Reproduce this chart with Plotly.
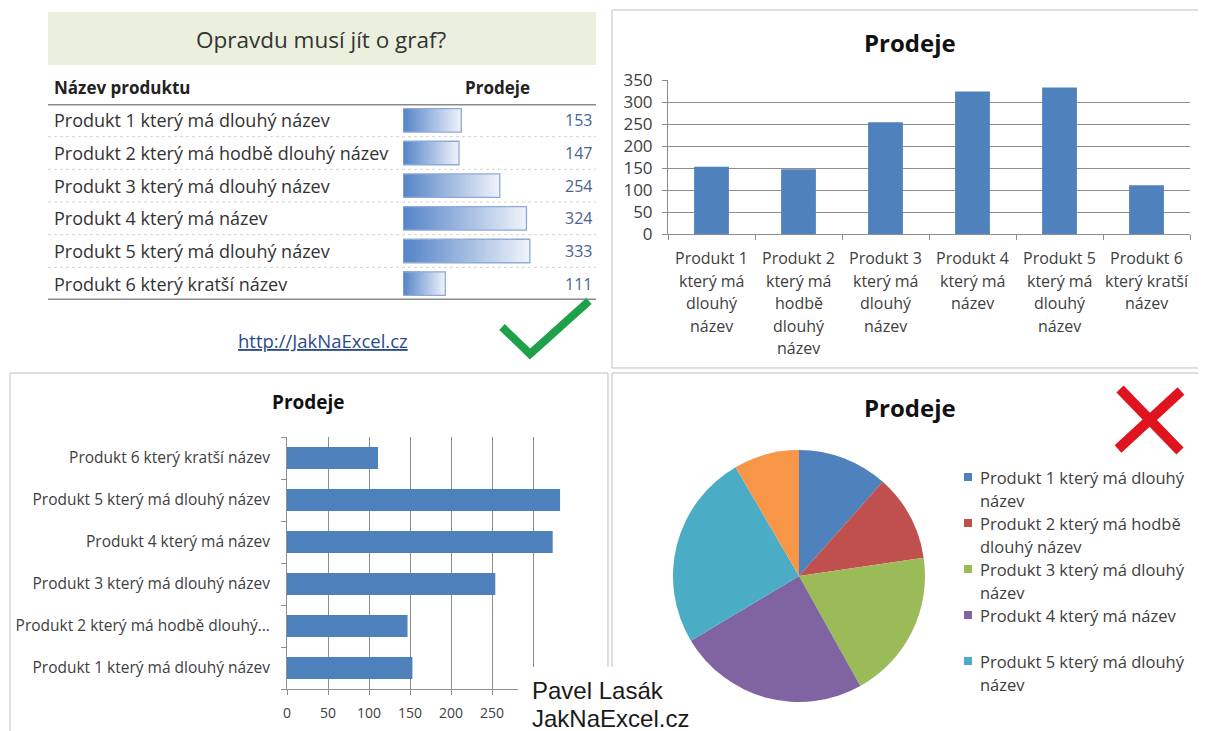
import plotly.graph_objects as go

# The page body has an 8px margin, so the figure is placed 8px in from the
# window's top-left corner; positions below are given in window pixels.
OFF = 8
W, H = 1206 - OFF, 731 - OFF


def X(p):
    return (p - OFF) / W


def Y(p):
    return 1 - (p - OFF) / H


# ---------------- data ----------------
products = [
    "Produkt 1 který má dlouhý název",
    "Produkt 2 který má hodbě dlouhý název",
    "Produkt 3 který má dlouhý název",
    "Produkt 4 který má název",
    "Produkt 5 který má dlouhý název",
    "Produkt 6 který kratší název",
]
sales = [153, 147, 254, 324, 333, 111]

column_tick_labels = [
    "Produkt 1<br>který má<br>dlouhý<br>název",
    "Produkt 2<br>který má<br>hodbě<br>dlouhý<br>název",
    "Produkt 3<br>který má<br>dlouhý<br>název",
    "Produkt 4<br>který má<br>název",
    "Produkt 5<br>který má<br>dlouhý<br>název",
    "Produkt 6<br>který kratší<br>název",
]
hbar_tick_labels = [
    "Produkt 1 který má dlouhý název",
    "Produkt 2 který má hodbě dlouhý...",
    "Produkt 3 který má dlouhý název",
    "Produkt 4 který má název",
    "Produkt 5 který má dlouhý název",
    "Produkt 6 který kratší název",
]
hbar_x_ticks = [0, 50, 100, 150, 200, 250, 300, 350]
hbar_x_ticktext = ["0", "50", "100", "150", "200", "250", "", ""]  # 300/350 hidden under the stamp
legend_labels = [
    "Produkt 1 který má dlouhý<br>název",
    "Produkt 2 který má hodbě<br>dlouhý název",
    "Produkt 3 který má dlouhý<br>název",
    "Produkt 4 který má název",
    "Produkt 5 který má dlouhý<br>název",
]
pie_colors = ["#4F81BD", "#C0504D", "#9BBB59", "#8064A2", "#4BACC6", "#F79646"]

table_title = "Opravdu musí jít o graf?"
header_name = "Název produktu"
header_sales = "Prodeje"
chart_title = "Prodeje"
link_text = "http://JakNaExcel.cz"
author_lines = ["Pavel Lasák", "JakNaExcel.cz"]

FONT = "Open Sans"
TXT = "#333333"
AX = "#404040"
GRID = "#8E8E8E"
BAR = "#4F81BD"

fig = go.Figure()

# ---------------- table data bars (gradient) ----------------
N_SEG = 40
c_dark = (86, 133, 201)
c_light = (238, 242, 250)
for k in range(N_SEG - 1, -1, -1):
    t = k / (N_SEG - 1)
    col = "rgb(%d,%d,%d)" % tuple(round(c_dark[i] + (c_light[i] - c_dark[i]) * t) for i in range(3))
    fig.add_trace(go.Bar(
        y=products, x=[v * (k + 1) / N_SEG for v in sales], orientation="h",
        xaxis="x3", yaxis="y3", width=0.72,
        marker=dict(color=col, line=dict(width=0)), hoverinfo="skip",
    ))
fig.add_trace(go.Bar(
    y=products, x=sales, orientation="h", xaxis="x3", yaxis="y3", width=0.72,
    marker=dict(color="rgba(0,0,0,0)", line=dict(color="#8FA9D6", width=1.3)),
    hoverinfo="x+y",
))

# ---------------- column chart (top right) ----------------
fig.add_trace(go.Bar(
    x=products, y=sales, xaxis="x", yaxis="y", width=0.4,
    marker=dict(color=BAR, line=dict(width=0)),
))

# ---------------- horizontal bar chart (bottom left) ----------------
fig.add_trace(go.Bar(
    y=products, x=sales, orientation="h", xaxis="x2", yaxis="y2", width=0.52,
    marker=dict(color=BAR, line=dict(width=0)),
))

# ---------------- pie (bottom right) ----------------
fig.add_trace(go.Pie(
    labels=products, values=sales, sort=False, direction="clockwise", rotation=0,
    marker=dict(colors=pie_colors, line=dict(width=0)),
    textinfo="none", showlegend=False,
    domain=dict(x=[X(673), X(925)], y=[Y(702), Y(450)]),
))

annotations = []
shapes = []


def note(text, x, y, size, color=TXT, xanchor="center", xref="paper", yref="paper", family=FONT):
    annotations.append(dict(text=text, xref=xref, yref=yref, x=x, y=y, xanchor=xanchor, yanchor="middle",
                            showarrow=False, font=dict(family=family, size=size, color=color)))


# ---------------- table texts / lines ----------------
shapes.append(dict(type="rect", xref="paper", yref="paper", x0=X(48), x1=X(596), y0=Y(65), y1=Y(12),
                   fillcolor="#EBF0DE", line=dict(width=0), layer="below"))
note(table_title, X(321), Y(40), 22.5)
note("<b>%s</b>" % header_name, X(52), Y(87), 17, "#222222", "left")
note("<b>%s</b>" % header_sales, X(498), Y(87), 17, "#222222")
for name, v in zip(products, sales):
    note(name, X(52), name, 18, TXT, "left", yref="y3")
    note(str(v), X(594), name, 16, "#4A6491", "right", yref="y3")
for i in range(len(products) - 1):
    shapes.append(dict(type="line", xref="paper", yref="y3", x0=X(48), x1=X(596), y0=i + 0.5, y1=i + 0.5,
                       line=dict(color="#D4D4D4", width=1, dash="dot")))
for yy in (-0.5, len(products) - 0.5):
    shapes.append(dict(type="line", xref="paper", yref="y3", x0=X(48), x1=X(596), y0=yy, y1=yy,
                       line=dict(color="#8A8A8A", width=3)))
note("<u>%s</u>" % link_text, X(323), Y(341), 18.5, "#2B4A8F")

# green check mark
shapes.append(dict(type="path", xref="paper", yref="paper",
                   path="M %f %f L %f %f L %f %f" % (X(502), Y(327), X(530), Y(354), X(589), Y(301)),
                   line=dict(color="#1FA04B", width=8)))

# ---------------- panel borders ----------------
for (x0, x1, y0, y1) in [(612, 1203, 10, 368), (10, 608, 373, 745), (612, 1203, 373, 745)]:
    shapes.append(dict(type="rect", xref="paper", yref="paper", x0=X(x0), x1=X(x1), y0=Y(y1), y1=Y(y0),
                       line=dict(color="#BFBFBF", width=1), fillcolor="rgba(0,0,0,0)", layer="below"))

# ---------------- titles ----------------
note("<b>%s</b>" % chart_title, X(910), Y(42), 24, "#111111")
note("<b>%s</b>" % chart_title, X(308), Y(402), 19, "#111111")
note("<b>%s</b>" % chart_title, X(910), Y(407), 24, "#111111")

# column chart category labels (one annotation per line for Excel-like spacing)
for cat, lab in zip(products, column_tick_labels):
    for j, line in enumerate(lab.split("<br>")):
        note(line, cat, Y(258 + 22.5 * j), 16, AX, xref="x")

# ---------------- pie legend (first five visible, as in the original) ----------------
for i, lab in enumerate(legend_labels):
    y0 = 477 + 46 * i
    shapes.append(dict(type="rect", xref="paper", yref="paper", x0=X(964), x1=X(972), y0=Y(y0 + 4), y1=Y(y0 - 4),
                       fillcolor=pie_colors[i], line=dict(width=0)))
    for j, line in enumerate(lab.split("<br>")):
        note(line, X(978), Y(y0 + 23.5 * j), 16.5, AX, "left")

# red X
shapes.append(dict(type="line", xref="paper", yref="paper", x0=X(1120), y0=Y(389), x1=X(1180), y1=Y(451),
                   line=dict(color="#E0141E", width=10)))
shapes.append(dict(type="line", xref="paper", yref="paper", x0=X(1181), y0=Y(391), x1=X(1118), y1=Y(449),
                   line=dict(color="#E0141E", width=10)))

# author stamp on white box
shapes.append(dict(type="rect", xref="paper", yref="paper", x0=X(518), x1=X(700), y0=Y(740), y1=Y(667),
                   fillcolor="white", line=dict(width=0), layer="above"))
for j, line in enumerate(author_lines):
    note(line, X(530), Y(690 + 28 * j), 24, "#1A1A1A", "left", family="Liberation Sans")

fig.update_layout(
    width=W, height=H, margin=dict(l=0, r=0, t=0, b=0, pad=0, autoexpand=False),
    paper_bgcolor="white", plot_bgcolor="rgba(0,0,0,0)",
    showlegend=False, barmode="overlay",
    font=dict(family=FONT, color=AX),
    xaxis=dict(domain=[X(668), X(1190)], anchor="y", type="category", range=[-0.5, 5.5], automargin=False,
               showticklabels=False, ticks="outside", tickson="boundaries", ticklen=5, tickcolor=GRID,
               showline=True, linecolor=GRID, showgrid=False, fixedrange=True),
    yaxis=dict(domain=[Y(234), Y(80)], anchor="x", range=[0, 350], dtick=50, automargin=False,
               showgrid=True, gridcolor=GRID, gridwidth=1, zeroline=False,
               showline=True, linecolor=GRID, ticks="outside", ticklen=5, tickcolor=GRID,
               ticklabelstandoff=6, tickfont=dict(family=FONT, size=17, color=AX)),
    xaxis2=dict(domain=[X(287), X(574)], anchor="y2", range=[0, 350], automargin=False,
                tickmode="array", tickvals=hbar_x_ticks, ticktext=hbar_x_ticktext,
                showgrid=True, gridcolor=GRID, zeroline=False, showline=True, linecolor=GRID,
                ticks="outside", ticklen=5, tickcolor=GRID, ticklabelstandoff=6,
                tickfont=dict(family=FONT, size=14, color=AX)),
    yaxis2=dict(domain=[Y(689), Y(437)], anchor="x2", type="category", range=[-0.5, 5.5], automargin=False,
                tickmode="array", tickvals=products, ticktext=hbar_tick_labels,
                ticks="outside", tickson="boundaries", ticklen=5, tickcolor=GRID,
                showline=True, linecolor=GRID, showgrid=False, ticklabelstandoff=13,
                tickfont=dict(family=FONT, size=15.5, color=AX)),
    xaxis3=dict(domain=[X(403), X(403 + 350 * 0.381)], anchor="y3", range=[0, 350], visible=False,
                automargin=False),
    yaxis3=dict(domain=[Y(300), Y(104)], anchor="x3", type="category", range=[5.5, -0.5], visible=False,
                automargin=False),
    annotations=annotations,
    shapes=shapes,
)

fig.write_html("out.html")
